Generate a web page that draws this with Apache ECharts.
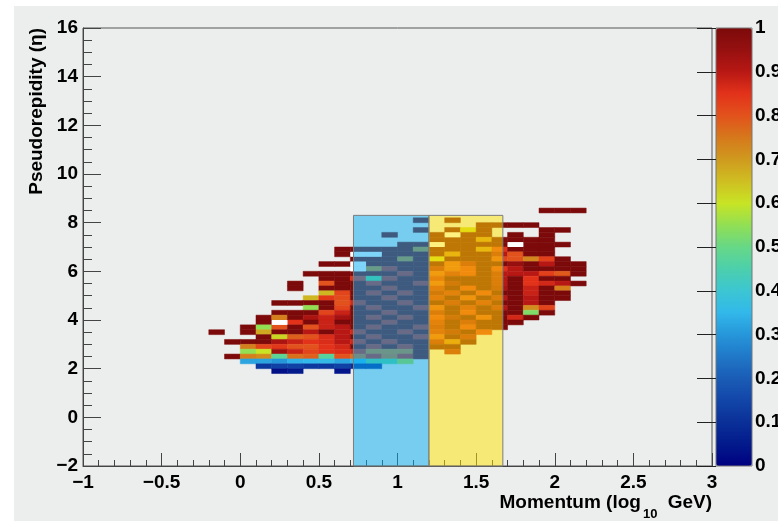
<!DOCTYPE html>
<html><head><meta charset="utf-8">
<script src="https://cdn.jsdelivr.net/npm/echarts@6/dist/echarts.min.js"></script>
<style>html,body{margin:0;padding:0;background:#fff;}#c{width:778px;height:521px;}</style>
</head><body><div id="c"></div>
<script>
// ---- data ----
const xBinLow = [-0.2,-0.1,0.0,0.1,0.2,0.3,0.4,0.5,0.6,0.7,0.8,0.9,1.0,1.1,1.2,1.3,1.4,1.5,1.6,1.7,1.8,1.9,2.0,2.1];
const yBinLow = [8.4,8.2,8.0,7.8,7.6,7.4,7.2,7.0,6.8,6.6,6.4,6.2,6.0,5.8,5.6,5.4,5.2,5.0,4.8,4.6,4.4,4.2,4.0,3.8,3.6,3.4,3.2,3.0,2.8,2.6,2.4,2.2,2.0,1.8];
const binWidthX = 0.1, binHeightY = 0.2;
const _ = null;
const efficiency = [
[_,_,_,_,_,_,_,_,_,_,_,_,_,_,_,_,_,_,_,_,_,1,1,1],
[_,_,_,_,_,_,_,_,_,_,_,_,_,_,_,_,_,_,_,_,_,_,_,_],
[_,_,_,_,_,_,_,_,_,_,_,_,_,1,_,1,_,_,_,_,_,_,_,_],
[_,_,_,_,_,_,_,_,_,_,_,_,_,_,_,_,_,1,1,1,1,_,_,_],
[_,_,_,_,_,_,_,_,_,_,_,_,_,1,_,1,.62,1,_,_,_,1,1,_],
[_,_,_,_,_,_,_,_,_,_,_,1,_,_,1,_,1,1,_,1,_,1,_,_],
[_,_,_,_,_,_,_,_,_,_,_,_,_,_,1,1,1,.72,1,1,1,1,_,_],
[_,_,_,_,_,_,_,_,_,_,_,_,1,1,_,1,1,1,1,_,1,1,1,_],
[_,_,_,_,_,_,_,_,1,1,1,1,1,.72,1,1,1,.72,.85,1,1,1,_,_],
[_,_,_,_,_,_,_,_,1,_,_,1,1,1,1,.73,1,1,.9,.8,1,1,_,_],
[_,_,_,_,_,_,_,_,_,1,1,1,.72,1,.62,1,1,1,.82,.8,.73,.83,1,_],
[_,_,_,_,_,_,_,1,1,_,1,1,1,1,1,.8,.9,1,1,.95,1,.9,1,1],
[_,_,_,_,_,_,_,_,_,_,.72,.87,1,1,.9,.8,.85,1,.85,.9,1,1,1,1],
[_,_,_,_,_,_,1,1,1,1,1,1,.87,1,.8,.88,.85,1,.9,.9,.9,.83,.79,1],
[_,_,_,_,_,_,_,1,1,.85,.5,.87,1,1,.87,1,1,1,.9,1,.85,1,1,_],
[_,_,_,_,_,1,_,.8,1,1,.87,1,1,.87,.8,.93,1,1,.9,1,.85,.87,.9,1],
[_,_,_,_,_,1,_,1,1,1,1,.87,1,1,.88,1,.85,1,.92,1,.88,1,.74,_],
[_,_,_,_,_,_,_,.66,.82,1,.87,1,.87,1,.93,.88,1,.85,1,1,.88,1,1,_],
[_,_,_,_,_,_,.66,.84,.81,1,1,.87,1,1,.88,1,.82,1,.9,1,.9,1,1,_],
[_,_,_,_,1,1,1,1,.8,.87,1,1,.87,1,1,.9,1,.88,1,1,.9,1,_,_],
[_,_,_,_,_,_,.55,1,.82,1,.87,1,1,.87,.82,1,.88,1,.9,1,.72,.82,_,_],
[_,_,_,_,1,1,1,.82,.88,1,1,.87,1,1,.9,1,.85,1,1,1,.53,1,_,_],
[_,_,_,1,.74,1,.92,.88,.93,1,.87,1,.87,1,.85,.93,1,.82,1,.87,1,_,_,_],
[_,_,_,1,_,.85,1,.88,1,1,1,.87,1,1,.88,1,.9,1,1,1,_,_,_,_],
[_,_,1,.55,.8,1,.8,.88,.9,1,.87,1,1,.87,.9,1,.85,1,1,_,_,_,_,_],
[1,_,1,.68,1,1,.9,1,.9,.87,1,1,.87,1,.88,.93,1,.85,_,_,_,_,_,_],
[_,_,_,1,.62,.78,.8,.86,.9,1,.87,1,1,.87,.8,1,.9,_,_,_,_,_,_,_],
[_,1,1,1,.92,.88,.85,.86,.9,.87,1,.87,1,1,.9,.75,1,_,_,_,_,_,_,_],
[_,_,.74,.82,.84,.8,.8,.85,.87,1,.87,1,.87,1,1,1,_,_,_,_,_,_,_,_],
[_,_,.55,.6,.94,.88,.82,.85,.86,.87,.74,.74,.74,1,_,.9,_,_,_,_,_,_,_,_],
[_,1,.74,.72,.48,.76,.78,.47,.8,.76,.87,.76,.87,1,_,_,_,_,_,_,_,_,_,_],
[_,_,.32,.32,.3,.34,.35,.36,.32,.35,.48,.48,.58,_,_,_,_,_,_,_,_,_,_,_],
[_,_,_,.12,.14,.14,.12,.12,.14,.1,.1,_,_,_,_,_,_,_,_,_,_,_,_,_],
[_,_,_,_,.03,.05,_,_,.04,_,_,_,_,_,_,_,_,_,_,_,_,_,_,_]
];
const whiteCells = [[0.2,3.8],[0.7,6.6],[0.8,6.6],[0.7,6.2],[0.7,6.0],[1.3,7.4],[1.2,7.0],[1.7,7.0]];
const bandEdges = [0.72, 1.2, 1.67];
const bandTop = 8.3;

// ---- styles ----
const FONT = "'Liberation Sans', Arial, Helvetica, sans-serif";
const palette = ['#000080','#031a8c','#0a3098','#1246a8','#1a5cb6','#2078c8','#2696da','#32b8ea','#3cc6d2','#4ccfac','#66d886','#92df54','#c8e424','#cfbe22','#cf9a1e','#d6781c','#e2521c','#e2321a','#b81814','#961010','#7c0a0a'];
const bandFills = ['rgba(0,172,243,0.5)','rgba(255,228,0,0.5)'];

const cells = [];
yBinLow.forEach((y, r) => {
  xBinLow.forEach((x, c) => {
    const v = efficiency[r][c];
    if (v !== null) cells.push([x, y, v]);
  });
});
const bands = [];
for (let i = 0; i < bandEdges.length - 1; i++) bands.push([bandEdges[i], bandEdges[i+1], i]);

function cellRender(params, api) {
  const x0 = api.value(0), y0 = api.value(1);
  const p0 = api.coord([x0, y0 + binHeightY]);
  const p1 = api.coord([x0 + binWidthX, y0]);
  const col = api.visual('color');
  return {type:'rect', shape:{x:p0[0], y:p0[1], width:p1[0]-p0[0], height:p1[1]-p0[1]},
    style:{fill:col, stroke:col, lineWidth:0.5}};
}
function whiteRender(params, api) {
  const x0 = api.value(0), y0 = api.value(1);
  const p0 = api.coord([x0, y0 + binHeightY]);
  const p1 = api.coord([x0 + binWidthX, y0]);
  return {type:'rect', shape:{x:p0[0], y:p0[1], width:p1[0]-p0[0], height:p1[1]-p0[1]},
    style:{fill:'#ffffff'}};
}
function bandRender(params, api) {
  const x0 = api.value(0), x1 = api.value(1), idx = api.value(2);
  const p0 = api.coord([x0, bandTop]);
  const p1 = api.coord([x1, -2]);
  return {type:'rect', shape:{x:p0[0], y:p0[1], width:p1[0]-p0[0], height:p1[1]-p0[1]},
    style:{fill:bandFills[idx], stroke:'#7d7d7d', lineWidth:1}};
}
const fmt = v => String(v).replace('-', '\u2212');
const lbl = {color:'#000', fontSize:19, fontWeight:'bold', fontFamily:FONT};

const chart = echarts.init(document.getElementById('c'), null, {renderer:'canvas'});
chart.setOption({
  animation:false,
  backgroundColor:'#ffffff',
  graphic:[
    {type:'rect', left:14, top:6, shape:{width:764, height:515}, style:{fill:'#eceeed'}, z:-100, silent:true},
    {type:'text', x:37, y:28, rotation:Math.PI/2, z:10,
      style:{text:'Pseudorepidity (\u03b7)', fill:'#000', font:'bold 19px ' + FONT, textAlign:'right', textVerticalAlign:'middle'}},
    {type:'text', x:712, y:507, z:10,
      style:{text:'{m|Momentum (log}{s|10}{m| GeV)}', textAlign:'right', textVerticalAlign:'middle',
        rich:{
          m:{fontSize:19, fontWeight:'bold', fontFamily:FONT, fill:'#000', color:'#000', lineHeight:27, verticalAlign:'top'},
          s:{fontSize:13, fontWeight:'bold', fontFamily:FONT, fill:'#000', color:'#000', lineHeight:27, verticalAlign:'bottom', padding:[0,5,0,2]}
        }}}
  ],
  grid:[
    {left:83, right:66, top:28, bottom:55, show:true, borderColor:'#555', borderWidth:1, backgroundColor:'transparent', containLabel:false, outerBoundsMode:'none'},
    {left:716, width:36, top:28, height:438, show:true, borderColor:'#777', borderWidth:1, backgroundColor:'transparent', z:6, containLabel:false, outerBoundsMode:'none'}
  ],
  xAxis:[
    {type:'value', gridIndex:0, min:-1, max:3, interval:0.5,
      axisLine:{show:true, onZero:false, lineStyle:{color:'#444'}},
      axisTick:{show:true, inside:true, length:13, lineStyle:{color:'#444'}},
      minorTick:{show:true, splitNumber:5, length:6, lineStyle:{color:'#444'}},
      splitLine:{show:false},
      axisLabel:Object.assign({margin:7, formatter:fmt}, lbl)
    },
    {type:'value', gridIndex:1, min:0, max:1, show:false}
  ],
  yAxis:[
    {type:'value', gridIndex:0, min:-2, max:16, interval:2,
      axisLine:{show:true, onZero:false, lineStyle:{color:'#444'}},
      axisTick:{show:true, inside:true, length:18, lineStyle:{color:'#444'}},
      minorTick:{show:true, splitNumber:4, length:9, lineStyle:{color:'#444'}},
      splitLine:{show:false},
      axisLabel:Object.assign({margin:5, formatter:fmt}, lbl)
    },
    {type:'value', gridIndex:1, min:0, max:1, interval:0.1, position:'right', z:10,
      axisLine:{show:false},
      axisTick:{show:true, inside:true, length:19, lineStyle:{color:'#222'}},
      splitLine:{show:false},
      axisLabel:Object.assign({margin:3, formatter:v => (v===0||v===1) ? String(v) : v.toFixed(1)}, lbl)
    }
  ],
  visualMap:{type:'continuous', min:0, max:1, dimension:2, seriesIndex:0,
    left:716, top:28, itemWidth:36, itemHeight:438, padding:0, calculable:false,
    hoverLink:false, inRange:{color:palette}, z:4},
  series:[
    {type:'custom', name:'eff', xAxisIndex:0, yAxisIndex:0, data:cells, encode:{x:0, y:1}, renderItem:cellRender, silent:true, z:2},
    {type:'custom', name:'white', xAxisIndex:0, yAxisIndex:0, data:whiteCells, encode:{x:0, y:1}, renderItem:whiteRender, silent:true, z:2},
    {type:'custom', name:'bands', xAxisIndex:0, yAxisIndex:0, data:bands, encode:{x:[0,1]}, renderItem:bandRender, silent:true, z:3}
  ]
});
</script></body></html>
